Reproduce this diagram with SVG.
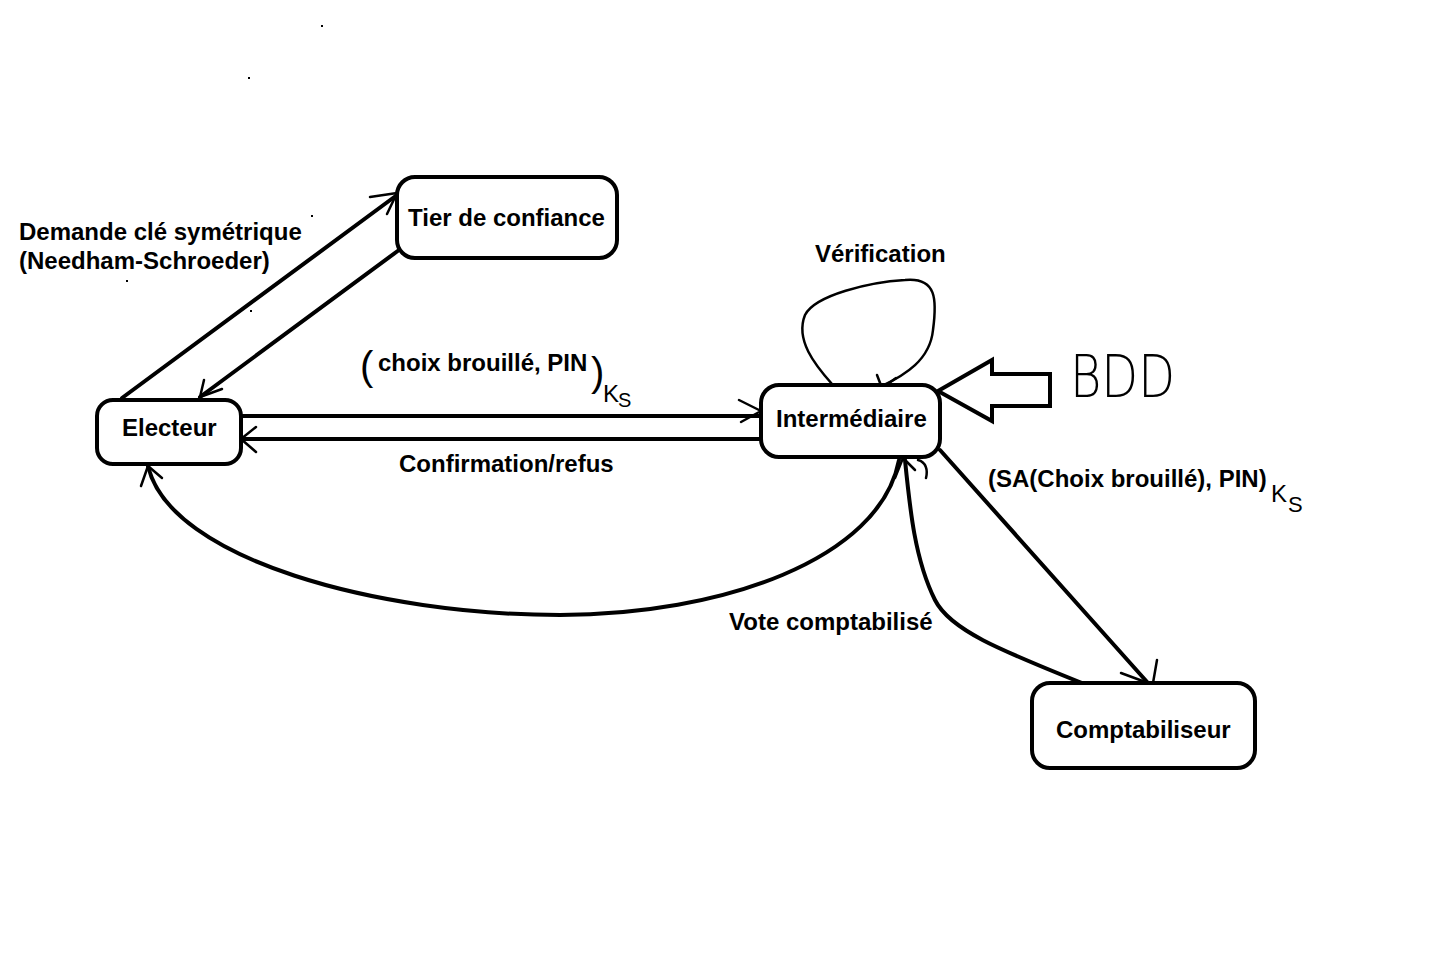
<svg xmlns="http://www.w3.org/2000/svg" width="1450" height="962" viewBox="0 0 1450 962">
<style>
.box{fill:#fff;stroke:#000;stroke-width:4}
.lbl{font-family:"Liberation Sans",Arial,sans-serif;font-weight:bold;font-size:24px;fill:#000}
.hand{font-family:"Liberation Sans",Arial,sans-serif;font-weight:normal;fill:#000}
.ln{fill:none;stroke:#000;stroke-width:4;stroke-linecap:round;stroke-linejoin:round}
.ah{fill:none;stroke:#000;stroke-width:2.5;stroke-linecap:round;stroke-linejoin:round}
</style>
<rect width="1450" height="962" fill="#fff"/>
<g id="specks" fill="#000">
<rect x="321" y="25" width="2" height="2"/>
<rect x="248" y="77" width="2" height="2"/>
<rect x="311" y="215" width="2" height="2"/>
<rect x="126" y="280" width="2" height="2"/>
<rect x="250" y="310" width="2" height="2"/>
</g>
<g id="connectors">
<path class="ln" d="M122,398 L397,195"/>
<path class="ah" d="M370,197 L397,193 L387,214"/>
<path class="ln" d="M399,250 L200,397"/>
<path class="ah" d="M204,380 L200,397 L222,389"/>
<path class="ln" d="M241,416 L761,416"/>
<path class="ah" d="M739,400 L761,411 L741,422"/>
<path class="ln" d="M761,439 L241,439"/>
<path class="ah" d="M256,427 L241,439 L256,452"/>
<path class="ln" d="M899,460 C880,560 720,615 560,615 C380,615 170,560 148,466"/>
<path class="ah" d="M141,486 L148,466 L162,478"/>
<path class="ln" d="M1082,683 C1000,650 950,630 935,600 C915,560 910,510 905,460"/>
<path class="ah" d="M895,478 L903,458 L915,470 M918,460 C926,462 928,470 926,478"/>
<path class="ln" d="M940,450 L1148,683"/>
<path class="ah" d="M1121,673 L1148,683 M1157,660 L1153,683"/>
<path class="ln" d="M832,384 C815,365 795,340 805,315 C815,295 870,282 905,280 C937,277 937,300 933,330 C930,360 905,375 882,386" style="stroke-width:2.5"/>
<path class="ah" d="M877,375 L882,388 L896,378"/>
<polygon points="938,391 992,360 992,374 1050,374 1050,406 992,406 992,421" fill="#fff" stroke="#000" stroke-width="4" stroke-linejoin="miter"/>
</g>
<g id="tier">
<rect class="box" x="397" y="177" width="220" height="81" rx="18"/>
<text class="lbl" x="408" y="226">Tier de confiance</text>
</g>
<g id="electeur">
<rect class="box" x="97" y="400" width="144" height="64" rx="16"/>
<text class="lbl" x="122" y="436">Electeur</text>
</g>
<g id="intermediaire">
<rect class="box" x="761" y="385" width="179" height="72" rx="18"/>
<text class="lbl" x="776" y="427">Intermédiaire</text>
</g>
<g id="comptabiliseur">
<rect class="box" x="1032" y="683" width="223" height="85" rx="18"/>
<text class="lbl" x="1056" y="738">Comptabiliseur</text>
</g>
<g id="bdd">
<text x="1070" y="397" font-family="'DejaVu Sans','Liberation Sans',sans-serif" font-weight="200" font-size="58" textLength="105" lengthAdjust="spacingAndGlyphs">BDD</text>
</g>
<g id="labels">
<text class="lbl" x="19" y="240">Demande clé symétrique</text>
<text class="lbl" x="19" y="269">(Needham-Schroeder)</text>
<text class="hand" x="360" y="380" font-size="40">(</text>
<text class="lbl" x="378" y="371">choix brouillé, PIN</text>
<text class="hand" x="591" y="386" font-size="40">)</text>
<text class="hand" x="603" y="402" font-size="24">K</text>
<text class="hand" x="618" y="407" font-size="20">S</text>
<text class="lbl" x="399" y="472">Confirmation/refus</text>
<text class="lbl" x="815" y="262">Vérification</text>
<text class="lbl" x="988" y="487">(SA(Choix brouillé), PIN)</text>
<text class="hand" x="1271" y="502" font-size="24">K</text>
<text class="hand" x="1288" y="512" font-size="22">S</text>
<text class="lbl" x="729" y="630">Vote comptabilisé</text>
</g>
</svg>
